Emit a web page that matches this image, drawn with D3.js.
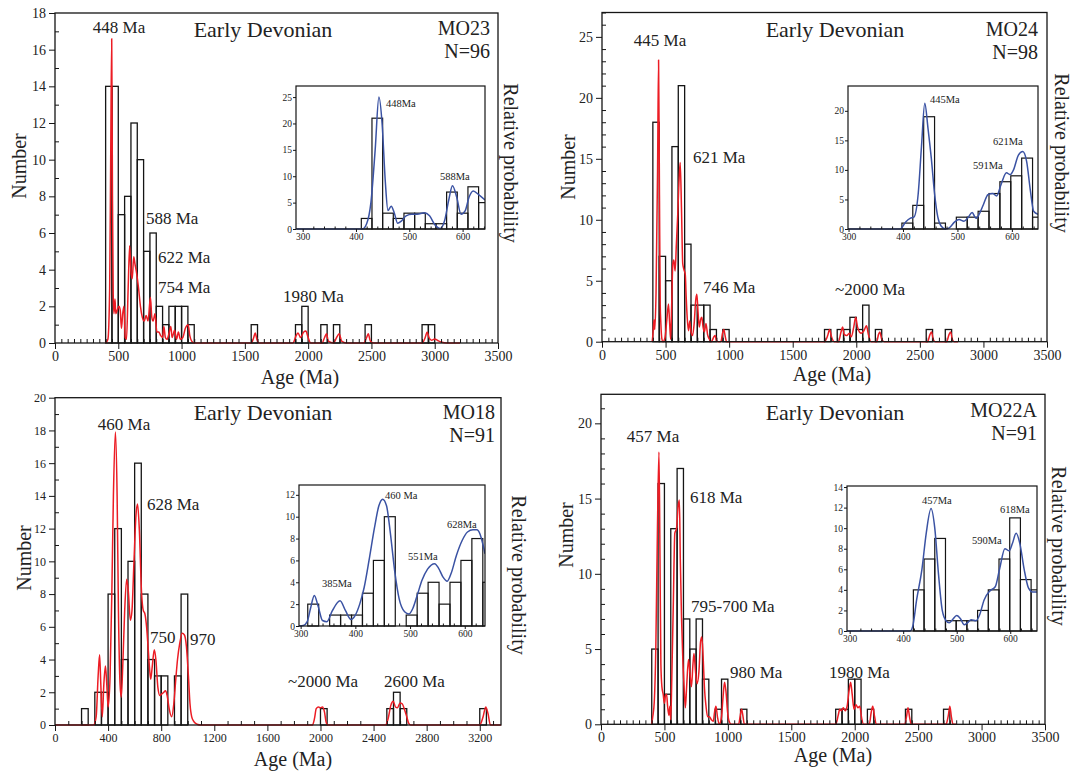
<!DOCTYPE html>
<html><head><meta charset="utf-8">
<script src="https://cdn.jsdelivr.net/npm/d3@7"></script>
<style>
body{margin:0;background:#fff}
svg{display:block}
text{font-family:"Liberation Serif","Times New Roman",serif;fill:#222}
</style>
</head><body>
<svg id="c" width="1079" height="771"></svg>
<script>
// ---------------- DATA ----------------
const binWidthMain = 50;
const binWidthInset = 20;

// MO23
const mo23Starts = [400,450,500,550,600,650,700,750,800,850,900,950,1000,1050,1550,1900,1950,2100,2200,2450,2900,2950];
const mo23Counts = [14,14,7,8,12,10,5,6,2,1,2,2,2,1,1,1,2,1,1,1,1,1];
const mo23Prob = [[400,0],[418,0.2],[432,3],[440,10],[448,16.6],[454,8],[460,2.6],[466,1.6],[474,2.4],[480,1.6],[492,1.8],[505,2.0],[515,1.8],[525,0.8],[535,1.6],[545,2.0],[555,0.3],[565,0.2],[578,3],[590,5.3],[600,3.9],[610,3.5],[622,4.7],[632,4.3],[645,3.8],[660,3.0],[675,2.0],[690,1.4],[705,1.2],[720,1.5],[735,1.2],[754,2.5],[765,1.4],[775,1.2],[790,1.6],[805,0.6],[820,0.6],[835,0.4],[850,0.3],[860,0.9],[872,0.3],[885,0.2],[900,0.5],[915,0.9],[925,0.3],[945,0.7],[960,0.2],[975,0.6],[990,0.2],[1010,0.3],[1030,0.8],[1052,1.0],[1065,0.4],[1080,0.1],[1100,0],[1550,0],[1570,0.3],[1582,0.55],[1595,0.2],[1610,0],[1880,0],[1905,0.4],[1920,0.55],[1940,0.3],[1965,0.6],[1982,0.65],[2000,0.3],[2020,0],[2110,0],[2130,0.3],[2145,0.5],[2160,0.1],[2200,0],[2225,0.3],[2245,0.5],[2265,0.1],[2300,0],[2440,0],[2462,0.3],[2475,0.5],[2492,0.1],[2520,0],[2900,0],[2925,0.3],[2940,0.6],[2955,0.3],[2975,0.15],[3000,0.22],[3020,0.15],[3050,0.05],[3100,0],[3200,0]];
const mo23InsetStarts = [410,430,450,470,490,510,530,550,570,590,610,630];
const mo23InsetCounts = [2,21,3,2,3,3,1,1,7,3,8,5];
const mo23InsetProb = [[288,0],[412,0],[420,1],[428,5],[436,15],[443,25],[449,20],[455,9],[460,3.5],[466,4.3],[472,3],[478,1.1],[485,1.5],[494,2.5],[505,2.8],[515,2.8],[528,3.1],[538,2.5],[548,0.8],[558,0.1],[566,1.5],[574,5.5],[581,8.2],[589,6],[597,2.8],[605,3.5],[612,6],[620,7.2],[630,6.5],[642,5.5]];

// MO24
const mo24Starts = [400,450,500,550,600,650,700,750,800,850,950,1750,1850,1900,1950,2000,2050,2150,2550,2700];
const mo24Counts = [18,7,5,16,21,8,3,3,3,1,1,1,1,1,2,1,3,1,1,1];
const mo24Prob = [[395,0],[402,0.8],[409,1.8],[415,1.0],[425,4],[437,14],[445,23.1],[452,12],[458,3],[463,1.5],[470,0.3],[480,0],[495,0.3],[510,1.8],[523,3.1],[532,1.5],[540,0.2],[548,3],[557,6.4],[565,6.7],[575,5.8],[585,8],[596,10.5],[605,13],[615,14.7],[625,11],[635,6.4],[645,5.9],[655,5.5],[662,3.7],[670,2],[680,0.9],[690,1.7],[700,0.8],[712,0.5],[725,1.5],[738,3.5],[746,3.9],[755,2.5],[765,1.2],[775,1.8],[785,2.0],[795,1.2],[805,0.8],[818,1.5],[830,0.6],[845,0.2],[860,0],[880,0.4],[890,0.5],[900,0.1],[915,0],[935,0],[948,0.7],[958,1.0],[968,0.5],[980,0],[1750,0],[1775,0.5],[1790,1.0],[1805,0.4],[1825,0],[1860,0],[1880,0.8],[1892,1.2],[1905,0.6],[1925,0.5],[1945,0.7],[1960,0.4],[1980,1.2],[1995,2.0],[2010,1.2],[2025,0.8],[2040,0.7],[2060,0.9],[2080,1.3],[2095,0.6],[2115,0],[2160,0],[2175,0.6],[2185,0.8],[2200,0.2],[2220,0],[2560,0],[2580,0.6],[2592,0.8],[2605,0.2],[2620,0],[2710,0],[2730,0.6],[2742,0.8],[2755,0.2],[2770,0],[2800,0]];
const mo24InsetStarts = [398,418,438,458,498,518,538,558,578,598,618,638];
const mo24InsetCounts = [1,4,19,1,2,2,3,6,8,9,12,2];
const mo24InsetProb = [[299,0],[395,0],[405,1.2],[413,1.8],[420,2],[428,6],[434,14],[440,21.3],[446,17],[452,12],[458,6],[464,2],[470,0.5],[478,0],[485,0.2],[495,1.2],[503,1.6],[512,1.3],[520,2],[527,2.8],[534,1.8],[540,2.5],[548,4.2],[556,5.8],[565,6.0],[572,5.6],[580,7.5],[590,9.5],[597,9.2],[603,10],[612,12.5],[620,13.1],[627,11.5],[634,6.5],[640,3],[648,2.5]];

// MO18
const mo18Starts = [200,300,350,400,450,500,550,600,650,700,750,800,900,950,2000,2500,2550,2600,3200];
const mo18Counts = [1,2,2,8,12,4,10,16,8,4,3,3,3,8,1,1,2,1,1];
const mo18Prob = [[0,0],[290,0],[310,0.5],[325,3],[336,4.3],[345,2.5],[356,0.5],[368,2.5],[380,3.6],[390,2.5],[400,1.1],[415,3],[428,8],[440,14],[455,17.9],[468,14],[478,7],[490,2.5],[499,1.7],[510,3.5],[525,7],[540,8.9],[552,8.2],[568,6.4],[580,7],[595,10],[610,12.8],[622,13.5],[635,12],[652,8.1],[665,7],[677,6.8],[690,6],[701,4.8],[712,3.5],[721,2.8],[733,3.6],[748,4.6],[760,4],[775,2.3],[790,1.8],[805,1.9],[820,2.0],[832,2.1],[845,1.8],[860,1.0],[879,0.5],[895,1.3],[910,2.8],[923,4.0],[940,5.0],[958,5.6],[975,5.5],[990,4.8],[1005,3],[1017,1.3],[1030,0.5],[1047,0.2],[1070,0.05],[1100,0],[1940,0],[1955,0.4],[1968,1.0],[1985,1.1],[2000,1.05],[2015,1.1],[2030,0.8],[2042,0.2],[2055,0],[2490,0],[2510,0.4],[2530,1.2],[2548,1.45],[2565,1.1],[2580,1.05],[2600,1.35],[2615,1.3],[2635,0.9],[2650,0.5],[2665,0.1],[2680,0],[3200,0],[3225,0.5],[3245,1.1],[3262,0.7],[3280,0],[3360,0]];
const mo18InsetStarts = [313,353,373,393,413,433,453,493,513,533,553,573,593,613,633];
const mo18InsetCounts = [2,1,1,1,3,6,10,1,3,4,2,4,6,8,4];
const mo18InsetProb = [[297,0],[305,0.05],[312,0.4],[318,1.6],[325,2.8],[332,1.8],[340,0.5],[348,0.4],[358,1.4],[372,2.3],[382,1.4],[392,0.6],[400,1.0],[408,2],[416,3.5],[425,6],[435,9],[443,11],[450,11.6],[457,11],[464,8.5],[472,5],[480,2.5],[490,1.3],[498,1.1],[505,1.6],[513,2.8],[522,4.2],[532,5.2],[545,5.7],[552,5.3],[560,4.5],[568,4.1],[575,4.8],[585,6.5],[595,7.8],[605,8.6],[615,8.8],[622,8.8],[628,8.4],[633,7.5],[637,6.6]];

// MO22A
const mo22Starts = [400,450,500,550,600,650,700,750,800,900,950,1100,1850,1900,1950,2000,2100,2400,2700];
const mo22Counts = [5,16,2,13,17,7,5,7,3,1,3,1,1,1,3,3,1,1,1];
const mo22Prob = [[400,0],[408,0.5],[420,1.5],[432,5],[445,13],[457,18.1],[465,11],[472,4],[480,2.5],[490,2.0],[500,1.4],[508,1.9],[517,2.0],[525,1.2],[535,0.6],[543,1.2],[550,0.3],[558,3],[570,8],[582,12.7],[595,13],[608,14.5],[618,14.9],[625,11],[635,7],[645,4.3],[655,2.5],[665,1.1],[675,2.5],[690,4.3],[700,3.5],[713,2.5],[725,4.0],[733,4.7],[745,3.5],[757,2.7],[772,3.5],[785,5.5],[795,5.8],[805,4.5],[815,2.5],[828,1.2],[840,0.5],[855,0.5],[870,0.3],[885,0.2],[895,0.8],[906,1.2],[918,0.5],[932,0],[950,0.5],[962,1.8],[974,2.8],[985,2.2],[998,0.8],[1010,0.2],[1025,0],[1085,0],[1098,0.6],[1108,1.0],[1118,0.6],[1130,0],[1850,0],[1870,0.6],[1882,1.0],[1895,0.9],[1910,1.1],[1925,0.9],[1940,1.2],[1955,2.2],[1968,2.8],[1980,2.0],[1995,1.0],[2010,1.3],[2025,1.1],[2040,1.2],[2055,0.4],[2070,0],[2115,0],[2130,0.8],[2142,1.2],[2155,0.6],[2170,0],[2395,0],[2410,0.6],[2420,1.1],[2432,0.5],[2445,0],[2720,0],[2738,0.6],[2750,1.2],[2762,0.5],[2775,0],[2800,0]];
const mo22InsetStarts = [419,439,459,479,499,519,539,559,579,599,619,639];
const mo22InsetCounts = [4,7,9,1,1,1,2,4,7,11,5,4];
const mo22InsetProb = [[295,0],[413,0],[418,0.5],[425,3],[435,6],[443,9.5],[452,11.9],[459,10],[466,5.5],[473,2],[480,1],[486,0.8],[492,1.1],[500,1.5],[507,1.2],[514,0.6],[520,0.8],[527,1.1],[536,1.0],[543,1.6],[551,3],[562,3.9],[572,4.3],[580,6],[590,8],[598,7.8],[604,8.5],[611,9.5],[618,8.5],[626,6],[634,4.2],[642,3.8],[650,3.8]];

// Tick labels
const xTicks3500 = [0,500,1000,1500,2000,2500,3000,3500];
const xTicksMO18 = [0,400,800,1200,1600,2000,2400,2800,3200];
const yTicksMO23 = [0,2,4,6,8,10,12,14,16,18];
const yTicksMO24 = [0,5,10,15,20,25];
const yTicksMO18 = [0,2,4,6,8,10,12,14,16,18,20];
const yTicksMO22 = [0,5,10,15,20];
const insetXTicks = [300,400,500,600];
const insetYTicksMO23 = [0,5,10,15,20,25];
const insetYTicksMO24 = [0,5,10,15,20];
const insetYTicksMO18 = [0,2,4,6,8,10,12];
const insetYTicksMO22 = [0,2,4,6,8,10,12,14];

// ---------------- LAYOUT ----------------
const svg = d3.select("#c");
const RED = "#ec1c24", BLUE = "#3a52a3", INK = "#151515";

function styleAxis(g, fs){
  g.select(".domain").remove();
  g.selectAll("line").attr("stroke", INK).attr("stroke-width", 1);
  g.selectAll("text").style("font-size", fs + "px").attr("fill", "#222");
}

function drawBars(g, x, y, starts, counts, w, sw){
  g.selectAll(null).data(d3.zip(starts, counts).filter(d => d[1] > 0)).join("rect")
    .attr("x", d => x(d[0])).attr("width", d => x(d[0] + w) - x(d[0]))
    .attr("y", d => y(d[1])).attr("height", d => y(0) - y(d[1]))
    .attr("fill", "none").attr("stroke", INK).attr("stroke-width", sw);
}

let clipId = 0;
function panel(p){
  const x = d3.scaleLinear().domain(p.xd).range([p.L, p.R]);
  const y = d3.scaleLinear().domain(p.yd).range([p.B, p.T]);
  const g = svg.append("g");
  drawBars(g, x, y, p.starts, p.counts, binWidthMain, 1.3);
  g.append("path").datum(p.prob)
    .attr("d", d3.line().x(d => x(d[0])).y(d => y(d[1])).curve(d3.curveMonotoneX))
    .attr("fill", "none").attr("stroke", RED).attr("stroke-width", 1.5).attr("stroke-linejoin", "round");
  g.append("rect").attr("x", p.L).attr("y", p.T).attr("width", p.R - p.L).attr("height", p.B - p.T)
    .attr("fill", "none").attr("stroke", INK).attr("stroke-width", 1.3);
  // x axis
  const xMinor = d3.range(p.xd[0], p.xd[1] + 1, p.xMinorStep).filter(v => !p.xTicks.includes(v));
  g.append("g").attr("transform", `translate(0,${p.B})`)
    .call(d3.axisBottom(x).tickValues(xMinor).tickSizeInner(-4).tickSizeOuter(0).tickFormat(""))
    .call(a => styleAxis(a, p.tickFs));
  g.append("g").attr("transform", `translate(0,${p.B})`)
    .call(d3.axisBottom(x).tickValues(p.xTicks).tickSizeInner(6).tickSizeOuter(0).tickPadding(2).tickFormat(d3.format("d")))
    .call(a => styleAxis(a, p.tickFs));
  // y axis
  const yMinor = d3.range(p.yd[0], p.yd[1] + 0.001, p.yMinorStep).filter(v => !p.yTicks.includes(v));
  g.append("g").attr("transform", `translate(${p.L},0)`)
    .call(d3.axisLeft(y).tickValues(yMinor).tickSizeInner(-4).tickSizeOuter(0).tickFormat(""))
    .call(a => styleAxis(a, p.tickFs));
  g.append("g").attr("transform", `translate(${p.L},0)`)
    .call(d3.axisLeft(y).tickValues(p.yTicks).tickSizeInner(6).tickSizeOuter(0).tickPadding(3).tickFormat(d3.format("d")))
    .call(a => styleAxis(a, p.tickFs));

  // inset
  const q = p.inset;
  const xi = d3.scaleLinear().domain(q.xd).range([q.L, q.R]);
  const yi = d3.scaleLinear().domain(q.yd).range([q.B, q.T]);
  const gi = svg.append("g");
  gi.append("rect").attr("x", q.L).attr("y", q.T).attr("width", q.R - q.L).attr("height", q.B - q.T).attr("fill", "#fff");
  const cid = "clip" + (clipId++);
  gi.append("clipPath").attr("id", cid).append("rect")
    .attr("x", q.L).attr("y", q.T - 2).attr("width", q.R - q.L).attr("height", q.B - q.T + 4);
  const gc = gi.append("g").attr("clip-path", `url(#${cid})`);
  drawBars(gc, xi, yi, q.starts, q.counts, binWidthInset, 1.2);
  gc.append("path").datum(q.prob)
    .attr("d", d3.line().x(d => xi(d[0])).y(d => yi(d[1])).curve(d3.curveMonotoneX))
    .attr("fill", "none").attr("stroke", BLUE).attr("stroke-width", 1.5);
  gi.append("rect").attr("x", q.L).attr("y", q.T).attr("width", q.R - q.L).attr("height", q.B - q.T)
    .attr("fill", "none").attr("stroke", INK).attr("stroke-width", 1.2);
  const xiMinor = d3.range(300, q.xd[1], 20).filter(v => !insetXTicks.includes(v));
  gi.append("g").attr("transform", `translate(0,${q.B})`)
    .call(d3.axisBottom(xi).tickValues(xiMinor).tickSizeInner(-2.5).tickSizeOuter(0).tickFormat(""))
    .call(a => styleAxis(a, 9.5));
  gi.append("g").attr("transform", `translate(0,${q.B})`)
    .call(d3.axisBottom(xi).tickValues(insetXTicks).tickSizeInner(3).tickSizeOuter(0).tickPadding(1).tickFormat(d3.format("d")))
    .call(a => styleAxis(a, 9.5));
  gi.append("g").attr("transform", `translate(${q.L},0)`)
    .call(d3.axisLeft(yi).tickValues(q.yTicks).tickSizeInner(3).tickSizeOuter(0).tickPadding(1).tickFormat(d3.format("d")))
    .call(a => styleAxis(a, 9.5));

  // texts
  p.texts.forEach(t => {
    const el = svg.append("text").text(t.s).attr("text-anchor", t.a || "start").style("font-size", t.f + "px");
    if (t.r) el.attr("transform", `translate(${t.x},${t.y}) rotate(${t.r})`).attr("dy", "0.35em");
    else el.attr("x", t.x).attr("y", t.y);
  });
}

const panels = [
  { L:55, R:498, T:13, B:343, xd:[0,3500], yd:[0,18], xTicks:xTicks3500, xMinorStep:50, yTicks:yTicksMO23, yMinorStep:1, tickFs:14,
    starts:mo23Starts, counts:mo23Counts, prob:mo23Prob,
    inset:{ L:296, R:485, T:86, B:229, xd:[287.5,642], yd:[0,27.1], yTicks:insetYTicksMO23, starts:mo23InsetStarts, counts:mo23InsetCounts, prob:mo23InsetProb },
    texts:[
      {s:"448 Ma", x:119, y:33, a:"middle", f:17},
      {s:"Early Devonian", x:263, y:37, a:"middle", f:22},
      {s:"MO23", x:490, y:35, a:"end", f:20},
      {s:"N=96", x:490, y:57.5, a:"end", f:20},
      {s:"588 Ma", x:146, y:224, f:17},
      {s:"622 Ma", x:158, y:263, f:17},
      {s:"754 Ma", x:158, y:293, f:17},
      {s:"1980 Ma", x:283, y:302, f:17},
      {s:"448Ma", x:386, y:107, f:10.5},
      {s:"588Ma", x:440, y:180, f:10.5},
      {s:"Number", x:19, y:166, a:"middle", f:20, r:-90},
      {s:"Age (Ma)", x:300, y:384, a:"middle", f:20},
      {s:"Relative probability", x:511, y:163, a:"middle", f:20, r:90}
    ]},
  { L:602, R:1047, T:12.5, B:341.7, xd:[0,3500], yd:[0,27], xTicks:xTicks3500, xMinorStep:50, yTicks:yTicksMO24, yMinorStep:1, tickFs:14,
    starts:mo24Starts, counts:mo24Counts, prob:mo24Prob,
    inset:{ L:848, R:1038, T:86, B:229, xd:[299,648], yd:[0,24.2], yTicks:insetYTicksMO24, starts:mo24InsetStarts, counts:mo24InsetCounts, prob:mo24InsetProb },
    texts:[
      {s:"445 Ma", x:660, y:46, a:"middle", f:17},
      {s:"Early Devonian", x:835, y:37, a:"middle", f:22},
      {s:"MO24", x:1038, y:36, a:"end", f:20},
      {s:"N=98", x:1038, y:58.5, a:"end", f:20},
      {s:"621 Ma", x:693, y:163, f:17},
      {s:"746 Ma", x:703, y:293, f:17},
      {s:"~2000 Ma", x:835, y:295, f:17},
      {s:"445Ma", x:930, y:103, f:10.5},
      {s:"621Ma", x:993, y:145, f:10.5},
      {s:"591Ma", x:973, y:169, f:10.5},
      {s:"Number", x:568, y:167, a:"middle", f:20, r:-90},
      {s:"Age (Ma)", x:832, y:381, a:"middle", f:20},
      {s:"Relative probability", x:1062, y:153, a:"middle", f:20, r:90}
    ]},
  { L:55, R:501, T:397.7, B:725, xd:[0,3360], yd:[0,20], xTicks:xTicksMO18, xMinorStep:100, yTicks:yTicksMO18, yMinorStep:1, tickFs:12,
    starts:mo18Starts, counts:mo18Counts, prob:mo18Prob,
    inset:{ L:299, R:485, T:485, B:626, xd:[297,637], yd:[0,12.9], yTicks:insetYTicksMO18, starts:mo18InsetStarts, counts:mo18InsetCounts, prob:mo18InsetProb },
    texts:[
      {s:"460 Ma", x:124, y:430, a:"middle", f:17},
      {s:"Early Devonian", x:263, y:420, a:"middle", f:22},
      {s:"MO18", x:495, y:419, a:"end", f:20},
      {s:"N=91", x:495, y:442, a:"end", f:20},
      {s:"628 Ma", x:147, y:510, f:17},
      {s:"750", x:150, y:643, f:17},
      {s:"970", x:190, y:645, f:17},
      {s:"~2000 Ma", x:288, y:687, f:17},
      {s:"2600 Ma", x:384, y:687, f:17},
      {s:"460 Ma", x:385, y:499, f:10.5},
      {s:"385Ma", x:322, y:587, f:10.5},
      {s:"551Ma", x:408, y:560, f:10.5},
      {s:"628Ma", x:447, y:528, f:10.5},
      {s:"Number", x:24, y:558, a:"middle", f:20, r:-90},
      {s:"Age (Ma)", x:293, y:766, a:"middle", f:20},
      {s:"Relative probability", x:519, y:575, a:"middle", f:20, r:90}
    ]},
  { L:601, R:1045, T:394.3, B:724.3, xd:[0,3500], yd:[0,21.93], xTicks:xTicks3500, xMinorStep:50, yTicks:yTicksMO22, yMinorStep:1, tickFs:14,
    starts:mo22Starts, counts:mo22Counts, prob:mo22Prob,
    inset:{ L:847, R:1037, T:486, B:631, xd:[295,650], yd:[0,14.1], yTicks:insetYTicksMO22, starts:mo22InsetStarts, counts:mo22InsetCounts, prob:mo22InsetProb },
    texts:[
      {s:"457 Ma", x:653, y:442, a:"middle", f:17},
      {s:"Early Devonian", x:835, y:420, a:"middle", f:22},
      {s:"MO22A", x:1037, y:417, a:"end", f:20},
      {s:"N=91", x:1037, y:439.5, a:"end", f:20},
      {s:"618 Ma", x:690, y:503, f:17},
      {s:"795-700 Ma", x:691, y:612, f:17},
      {s:"980 Ma", x:730, y:678, f:17},
      {s:"1980 Ma", x:829, y:678, f:17},
      {s:"457Ma", x:922, y:504, f:10.5},
      {s:"618Ma", x:1000, y:513, f:10.5},
      {s:"590Ma", x:972, y:544, f:10.5},
      {s:"Number", x:566, y:535, a:"middle", f:20, r:-90},
      {s:"Age (Ma)", x:833, y:762, a:"middle", f:20},
      {s:"Relative probability", x:1059, y:546, a:"middle", f:20, r:90}
    ]}
];
panels.forEach(panel);
</script>
</body></html>
